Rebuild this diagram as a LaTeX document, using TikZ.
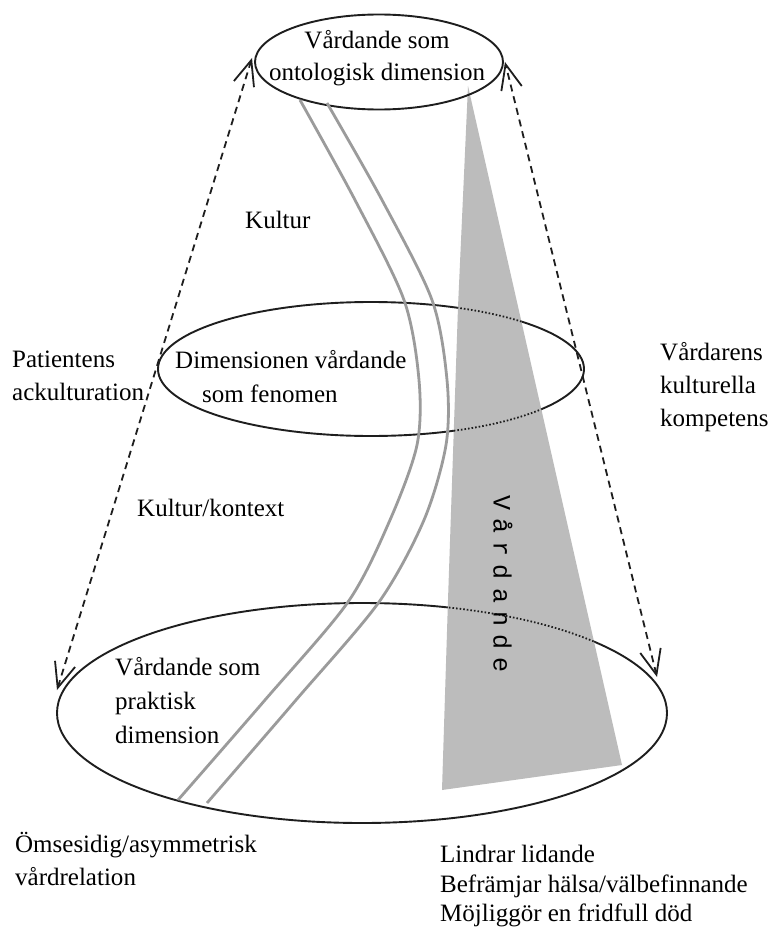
\documentclass[tikz,border=0pt]{standalone}
\usepackage{fontspec}
\setmainfont{Liberation Serif}
\newfontfamily\wedgefont{Liberation Mono}
\usetikzlibrary{arrows.meta}
\definecolor{roadgray}{RGB}{155,155,155}
\definecolor{wedgegray}{RGB}{188,188,188}
\definecolor{inkc}{RGB}{30,30,30}
\newcommand\wsp{\hspace{8.2pt}}
\begin{document}
\begin{tikzpicture}[x=1pt,y=-1pt,
  ell/.style={draw=inkc,line width=1.9pt},
  backell/.style={draw=inkc,line width=1.8pt,dash pattern=on 1.6pt off 2pt},
  road/.style={draw=roadgray,line width=2.8pt},
  dashline/.style={draw=inkc,line width=1.8pt,dash pattern=on 7pt off 5pt,
    {Straight Barb[length=25pt,width=21pt]}-{Straight Barb[length=25pt,width=21pt]}},
  lbl/.style={inner sep=0pt,font=\fontsize{25}{33}\selectfont,text=black},
]
\useasboundingbox (0,0) rectangle (771,931);
\fill[white] (0,0) rectangle (771,931);

% middle and bottom ellipses (front, solid)
\draw[ell] (371,369) ellipse [x radius=213pt, y radius=67pt];
\draw[ell] (362,713) ellipse [x radius=305pt, y radius=110pt];

% grey wedge
\fill[wedgegray] (468,86) -- (622,765) -- (442,790) -- (448,600) -- (458,307) -- cycle;
\begin{scope}
  \clip (468,86) -- (622,765) -- (442,790) -- (448,600) -- (458,307) -- cycle;
  \draw[backell] (371,369) ellipse [x radius=213pt, y radius=67pt];
  \draw[backell] (362,713) ellipse [x radius=305pt, y radius=110pt];
\end{scope}

% top ellipse
\draw[ell] (379,62) ellipse [x radius=124pt, y radius=47.5pt];

% grey road lines
\draw[road] plot[smooth] coordinates {(300,100) (355,200) (404,300) (419,380) (417,445) (390,520) (348,602) (265,700) (178,800)};
\draw[road] plot[smooth] coordinates {(327,103) (382,200) (432,300) (447,380) (446,445) (424,520) (379,602) (296,700) (207,803)};

% dashed double arrows
\coordinate (tl) at (252,58);
\coordinate (bl) at (57,690);
\coordinate (tr) at (505,62);
\coordinate (br) at (657,677);
\draw[dashline] (bl) -- (tl);
\draw[dashline] (br) -- (tr);

% texts
\node[lbl,anchor=north,align=center] (ontol) at (377,30) {Vårdande som\\[-1pt]ontologisk dimension};
\node[lbl,anchor=base west] (kultur) at (245,228) {Kultur};
\node[lbl,anchor=north west,align=left] (patient) at (12,351) {Patientens\\ackulturation};
\node[lbl,anchor=north west,align=left] (fenomen) at (175,350) {Dimensionen vårdande\\[1pt]\hspace*{27pt}som fenomen};
\node[lbl,anchor=north west,align=left] (vardare) at (660,342) {Vårdarens\\kulturella\\kompetens};
\node[lbl,anchor=base west] (kontext) at (137,516) {Kultur/kontext};
\node[lbl,anchor=north west,align=left] (praktisk) at (115,657) {Vårdande som\\[1pt]praktisk\\[1pt]dimension};
\node[lbl,anchor=north west,align=left] (relation) at (15,832) {Ömsesidig/asymmetrisk\\vårdrelation};
\node[lbl,anchor=north west,align=left,font=\fontsize{25}{29.5}\selectfont] (lindrar) at (440,845) {Lindrar lidande\\Befrämjar hälsa/välbefinnande\\Möjliggör en fridfull död};
\node[inner sep=0pt,rotate=-90,font=\wedgefont\fontsize{25}{25}\selectfont] (vtext) at (503,584) {V\wsp å\wsp r\wsp d\wsp a\wsp n\wsp d\wsp e};
\end{tikzpicture}
\end{document}
